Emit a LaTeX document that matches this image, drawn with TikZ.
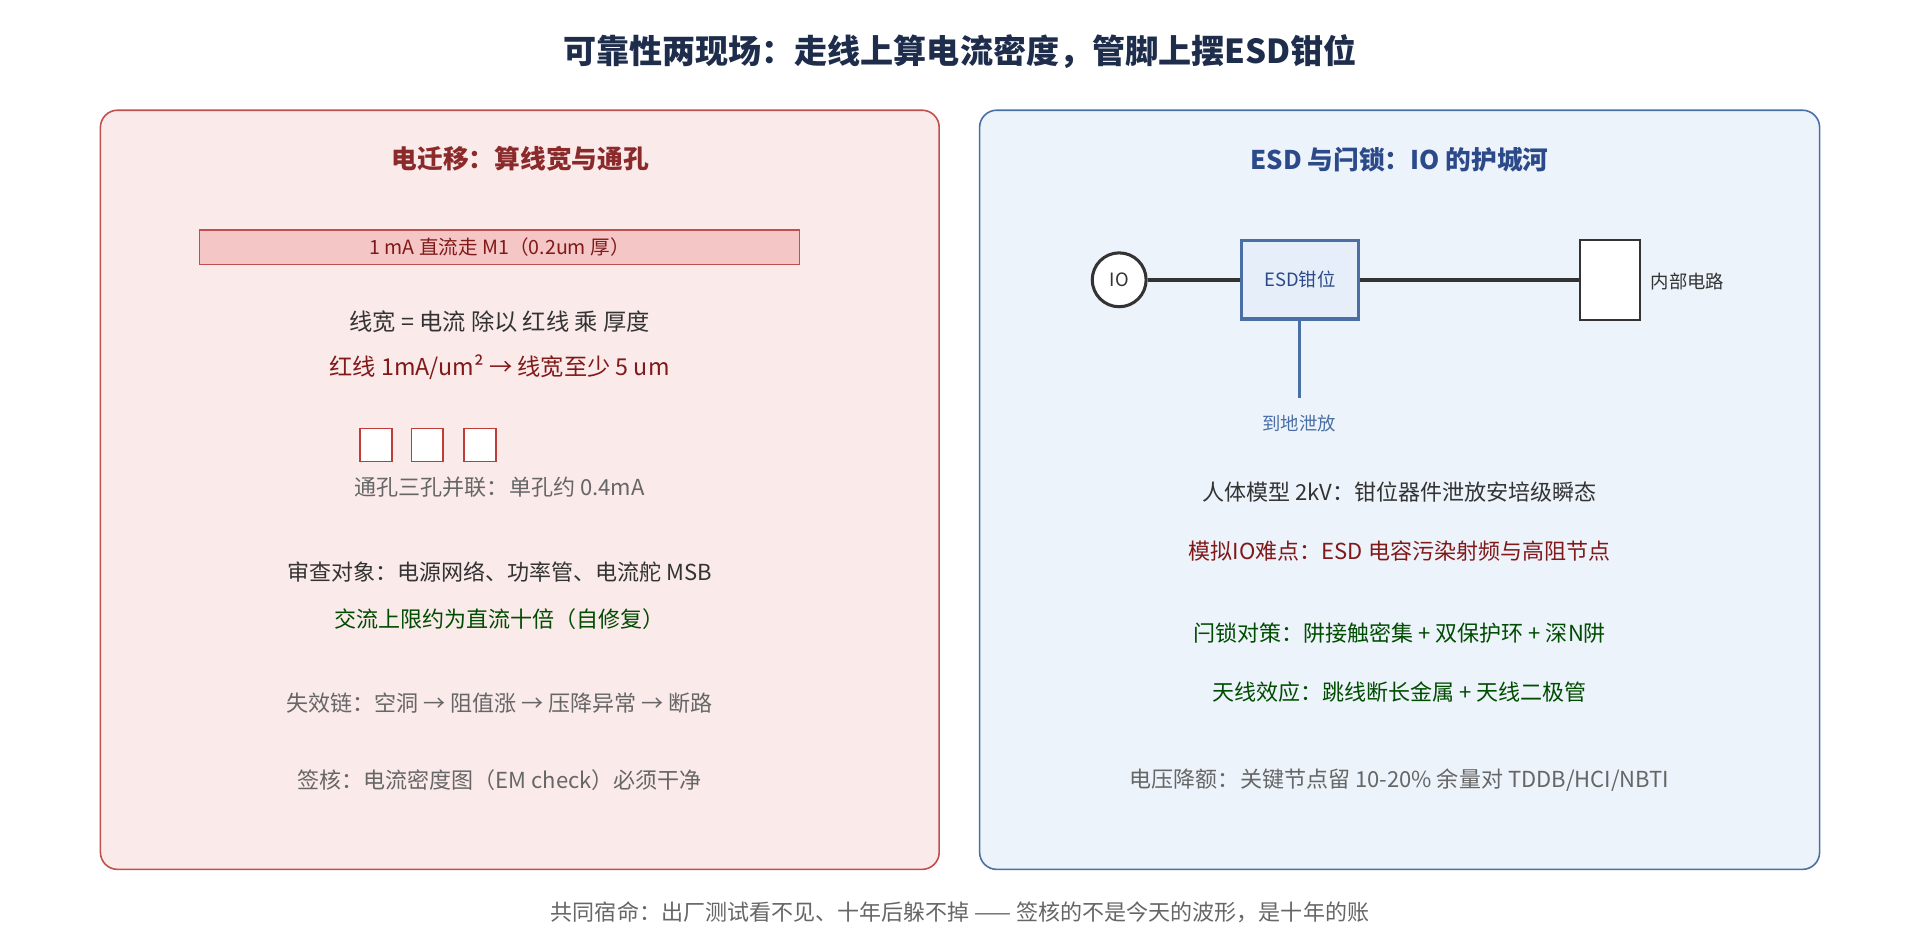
\documentclass[tikz,border=0pt]{standalone}
\usepackage{fontspec}
\setmainfont{Noto Sans CJK SC}
\begin{document}
\begin{tikzpicture}[x=1pt,y=-1pt,
  t/.style={inner sep=0pt,anchor=center},
  fs/.style={font=\fontsize{#1}{#1}\selectfont},
  fb/.style={font=\bfseries\fontsize{#1}{#1}\selectfont},
  panel/.style={rounded corners=14pt,line width=1.3pt},
  dk/.style={text=black!80},
  rd/.style={text=red!45!black!90},
  gr/.style={text=black!60},
  gn/.style={text=green!30!black}]
\useasboundingbox[fill=white] (0,0) rectangle (1568,768);
\node[t,fb=27,text={rgb,255:red,30;green,45;blue,75}] (title) at (784,42) {可靠性两现场：走线上算电流密度，管脚上摆ESD钳位};
\draw[panel,fill={rgb,255:red,251;green,234;blue,234},draw={rgb,255:red,192;green,80;blue,77}] (82,90) rectangle (767,710);
\draw[panel,fill={rgb,255:red,237;green,243;blue,251},draw={rgb,255:red,74;green,111;blue,165}] (800,90) rectangle (1486,710);
\node[t,fb=21,text={rgb,255:red,139;green,42;blue,42}] (lt) at (425,130) {电迁移：算线宽与通孔};
\node[t,fb=21,text={rgb,255:red,44;green,74;blue,138}] (rt) at (1143,130) {ESD 与闩锁：IO 的护城河};
\draw[line width=1.2pt,fill={rgb,255:red,244;green,198;blue,198},draw={rgb,255:red,192;green,80;blue,77}] (163,188) rectangle (653,216);
\node[t,fs=16,rd] (bar) at (408,202) {1 mA 直流走 M1（0.2um 厚）};
\node[t,fs=19,dk] (l1) at (408,263) {线宽 = 电流 除以 红线 乘 厚度};
\node[t,fs=19,rd] (l2) at (408,300) {红线 1mA/um² → 线宽至少 5 um};
\foreach \x in {294,336,379}
  \draw[line width=1.3pt,draw={rgb,255:red,192;green,60;blue,57},fill=white] (\x,350) rectangle +(26,27);
\node[t,fs=18,gr] (l3) at (408,398) {通孔三孔并联：单孔约 0.4mA};
\node[t,fs=18,dk] (l4) at (408,467) {审查对象：电源网络、功率管、电流舵 MSB};
\node[t,fs=18,gn] (l5) at (408,506) {交流上限约为直流十倍（自修复）};
\node[t,fs=18,gr] (l6) at (408,574) {失效链：空洞 → 阻值涨 → 压降异常 → 断路};
\node[t,fs=18,gr] (l7) at (408,637) {签核：电流密度图（EM check）必须干净};
% ESD diagram
\node[circle,draw=black!80,line width=2.5pt,fill=white,minimum size=44pt,inner sep=0pt,fs=15,dk] (io) at (914,228.5) {IO};
\node[draw={rgb,255:red,74;green,111;blue,165},line width=2.5pt,fill={rgb,255:red,230;green,238;blue,250},minimum width=96pt,minimum height=64pt,inner sep=0pt,fs=15,text={rgb,255:red,44;green,74;blue,138}] (esd) at (1061.5,228.5) {ESD钳位};
\node[draw=black!80,line width=1.5pt,fill=white,minimum width=49pt,minimum height=65pt,inner sep=0pt] (core) at (1314.5,228.5) {};
\node[t,fs=15,dk,anchor=west] (corel) at (1348,230) {内部电路};
\draw[line width=3pt,black!80] (io.east) -- (esd.west);
\draw[line width=3pt,black!80] (esd.east) -- (core.west);
\coordinate (gnd) at (1061.5,325);
\draw[line width=2.5pt,draw={rgb,255:red,74;green,111;blue,165}] (esd.south) -- (gnd);
\node[t,fs=15,text={rgb,255:red,74;green,111;blue,165}] (gndl) at (1061,346) {到地泄放};
\node[t,fs=18,dk] (r1) at (1143,402) {人体模型 2kV：钳位器件泄放安培级瞬态};
\node[t,fs=18,rd] (r2) at (1143,450) {模拟IO难点：ESD 电容污染射频与高阻节点};
\node[t,fs=18,gn] (r3) at (1143,517) {闩锁对策：阱接触密集 + 双保护环 + 深N阱};
\node[t,fs=18,gn] (r4) at (1143,565) {天线效应：跳线断长金属 + 天线二极管};
\node[t,fs=18,gr] (r5) at (1143,637) {电压降额：关键节点留 10-20\% 余量对 TDDB/HCI/NBTI};
\node[t,fs=18,gr] (foot) at (784,745) {共同宿命：出厂测试看不见、十年后躲不掉 —— 签核的不是今天的波形，是十年的账};
\end{tikzpicture}
\end{document}
